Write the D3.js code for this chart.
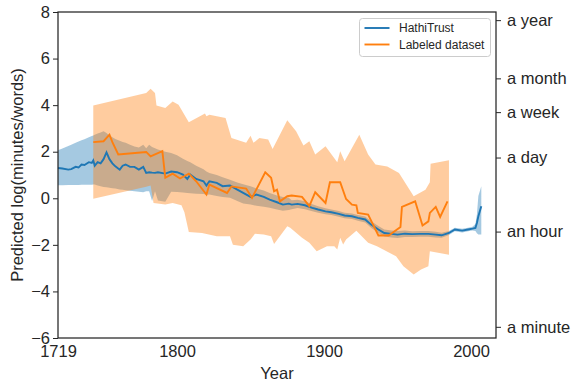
<!DOCTYPE html>
<html>
<head>
<meta charset="utf-8">
<script src="https://cdn.jsdelivr.net/npm/d3@7"></script>
<style>
body { margin: 0; background: #fff; }
text { font-family: "Liberation Sans", Arial, sans-serif; fill: #262626; }
</style>
</head>
<body>
<script>
// HathiTrust: yearly mean + confidence band
var hathiYears = [1719,1722,1726,1728,1731,1733,1735,1737,1740,1742,1743,1744,1746,1748,1750,1752,1754,1756,1758,1761,1763,1765,1768,1771,1774,1777,1779,1781,1783,1785,1787,1792,1796,1800,1804,1807,1809,1813,1818,1820,1822,1827,1831,1836,1841,1845,1850,1854,1859,1863,1868,1872,1876,1878,1882,1887,1892,1896,1901,1905,1910,1914,1919,1923,1928,1932,1937,1941,1946,1950,1955,1960,1965,1971,1976,1980,1985,1989,1994,1998,2001,2003,2004,2005,2007];
var hathiMean = [1.30,1.28,1.23,1.25,1.35,1.32,1.45,1.43,1.55,1.52,1.63,1.40,1.55,1.50,1.68,1.97,1.68,1.50,1.37,1.23,1.40,1.45,1.35,1.35,1.23,1.35,1.09,1.12,1.10,1.09,1.12,1.06,1.15,1.12,1.02,0.83,1.02,0.83,0.73,0.55,0.73,0.66,0.52,0.55,0.37,0.23,0.06,0.16,0.06,-0.06,-0.17,-0.27,-0.23,-0.27,-0.24,-0.30,-0.41,-0.48,-0.56,-0.60,-0.67,-0.74,-0.77,-0.84,-0.91,-1.13,-1.34,-1.49,-1.53,-1.56,-1.52,-1.54,-1.53,-1.53,-1.56,-1.59,-1.49,-1.34,-1.39,-1.34,-1.30,-1.27,-1.06,-0.77,-0.34];
var hathiLo = [0.56,0.56,0.57,0.57,0.57,0.57,0.58,0.58,0.58,0.58,0.59,0.59,0.55,0.52,0.49,0.47,0.45,0.43,0.42,0.38,0.37,0.35,0.32,0.30,0.28,0.26,0.30,0.30,-0.12,0.30,-0.10,-0.15,0.28,0.27,0.25,0.23,0.22,0.20,0.18,0.15,0.16,0.10,0.05,0.02,-0.12,-0.22,-0.27,-0.32,-0.36,-0.41,-0.48,-0.53,-0.50,-0.47,-0.42,-0.47,-0.56,-0.62,-0.69,-0.72,-0.79,-0.86,-0.89,-0.96,-1.04,-1.27,-1.49,-1.64,-1.68,-1.71,-1.66,-1.66,-1.65,-1.65,-1.68,-1.70,-1.58,-1.42,-1.47,-1.42,-1.38,-1.40,-1.50,-1.56,-1.56];
var hathiHi = [2.06,2.14,2.25,2.30,2.38,2.44,2.49,2.54,2.62,2.68,2.70,2.73,2.78,2.82,2.88,2.80,2.70,2.62,2.55,2.47,2.42,2.38,2.30,2.22,2.18,2.30,2.15,2.30,2.20,2.15,2.10,2.00,1.95,1.85,1.70,1.60,1.55,1.40,1.25,1.15,1.09,1.00,0.90,0.80,0.68,0.60,0.52,0.42,0.33,0.23,0.12,0.05,0.02,-0.08,-0.06,-0.13,-0.26,-0.34,-0.43,-0.48,-0.55,-0.62,-0.65,-0.72,-0.78,-0.99,-1.19,-1.34,-1.38,-1.41,-1.38,-1.42,-1.41,-1.41,-1.44,-1.48,-1.40,-1.26,-1.31,-1.26,-1.22,-1.10,-0.70,0.10,0.52];

// Labeled dataset: mean line
var labYears = [1743,1750,1754,1756,1760,1779,1782,1790,1792,1797,1802,1808,1813,1820,1822,1834,1837,1847,1851,1860,1864,1866,1868,1870,1875,1878,1885,1890,1894,1901,1904,1911,1915,1919,1922,1923,1930,1937,1944,1952,1953,1962,1967,1971,1972,1976,1979,1984];
var labMean = [2.41,2.45,2.73,2.41,1.88,1.99,1.80,2.02,0.88,1.06,0.85,1.06,0.73,0.16,0.59,0.23,0.51,0.42,0.02,1.12,0.88,0.30,0.37,-0.13,0.09,0.12,0.06,-0.34,0.26,-0.20,0.69,0.69,-0.03,-0.27,-0.30,-0.63,-0.70,-1.60,-1.60,-1.23,-0.37,-0.13,-1.17,-0.99,-0.63,-0.37,-0.80,-0.13];

// Labeled dataset: band edges
var labHiYears = [1743,1779,1782,1785,1786,1792,1797,1801,1808,1819,1820,1822,1833,1837,1847,1850,1852,1856,1862,1865,1875,1881,1886,1890,1894,1901,1909,1911,1914,1924,1930,1935,1943,1951,1961,1969,1972,1972.5,1985];
var labHi = [3.98,4.52,4.70,4.52,3.98,3.88,4.16,4.02,3.26,3.64,3.52,3.59,3.45,2.59,2.38,2.69,2.38,2.59,2.52,2.12,3.35,2.88,2.27,2.45,1.88,2.23,1.55,2.02,1.59,2.73,1.88,1.45,1.37,1.09,0.09,0.37,0.69,1.48,1.63];
var labLoYears = [1743,1779,1782,1784,1792,1797,1803,1805,1808,1817,1827,1836,1838,1845,1850,1853,1859,1864,1866,1875,1877,1885,1890,1895,1902,1907,1909,1911,1913,1915,1922,1930,1936,1949,1954,1961,1966,1971,1972,1985];
var labLo = [-0.02,0.50,0.55,-0.20,-0.27,-0.20,-0.30,-0.60,-1.45,-1.49,-1.63,-1.63,-2.00,-2.06,-1.77,-1.52,-1.56,-1.63,-1.96,-1.20,-1.27,-1.70,-1.91,-2.27,-2.06,-2.06,-2.20,-1.70,-1.99,-1.77,-1.39,-1.91,-2.06,-2.49,-2.92,-3.27,-3.06,-2.92,-2.27,-2.42];

var leftTicks = [-6,-4,-2,0,2,4,6,8];
var xTicks = [1719,1800,1900,2000];
var timeLabels = ["a minute","an hour","a day","a week","a month","a year"];
var timeValues = [-5.52,-1.43,1.75,3.70,5.15,7.65];

var W = 575, H = 385;
var mLeft = 58, mTop = 12, w = 438, h = 326;
var blue = "#1f77b4", orange = "#ff7f0e", ink = "#262626";

var svg = d3.select("body").append("svg").attr("width", W).attr("height", H);
var g = svg.append("g").attr("transform", "translate(" + mLeft + "," + mTop + ")");

var x = d3.scaleLinear().domain([1719, 2017]).range([0, w]);
var y = d3.scaleLinear().domain([-6, 8]).range([h, 0]);

var hathi = hathiYears.map(function(d, i){
  return {year: d, mean: hathiMean[i], lo: hathiLo[i], hi: hathiHi[i]};
});
var lab = labYears.map(function(d, i){ return {year: d, mean: labMean[i]}; });

var area = d3.area()
  .x(function(d){ return x(d.year); })
  .y0(function(d){ return y(d.lo); })
  .y1(function(d){ return y(d.hi); });
var line = d3.line()
  .x(function(d){ return x(d.year); })
  .y(function(d){ return y(d.mean); });
var poly = d3.line()
  .x(function(d){ return x(d[0]); })
  .y(function(d){ return y(d[1]); });

// bands first (below lines)
g.append("path").datum(hathi).attr("d", area)
  .attr("fill", blue).attr("fill-opacity", 0.4);

var labBand = labHiYears.map(function(d, i){ return [d, labHi[i]]; })
  .concat(labLoYears.map(function(d, i){ return [d, labLo[i]]; }).reverse());
g.append("path").attr("d", poly(labBand) + "Z")
  .attr("fill", orange).attr("fill-opacity", 0.4);

g.append("path").datum(hathi).attr("d", line)
  .attr("fill", "none").attr("stroke", blue).attr("stroke-width", 1.9);
g.append("path").datum(lab).attr("d", line)
  .attr("fill", "none").attr("stroke", orange).attr("stroke-width", 1.9);

// axes
var yl = g.append("g").call(d3.axisLeft(y).tickValues(leftTicks).tickSize(5).tickPadding(3).tickFormat(d3.format("d")));
var yr = g.append("g").attr("transform", "translate(" + w + ",0)")
  .call(d3.axisRight(y).tickValues(timeValues).tickSize(5).tickPadding(6)
    .tickFormat(function(d, i){ return timeLabels[i]; }));
var xa = g.append("g").attr("transform", "translate(0," + h + ")")
  .call(d3.axisBottom(x).tickValues(xTicks).tickSize(0).tickPadding(7).tickFormat(d3.format("d")));

[yl, yr, xa].forEach(function(a){
  a.select(".domain").remove();
  a.selectAll("line").attr("stroke", ink).attr("stroke-width", 1);
  a.selectAll("text").attr("font-size", "16.5px").attr("fill", ink)
    .style("font-family", "'Liberation Sans', Arial, sans-serif");
});

g.append("rect").attr("width", w).attr("height", h)
  .attr("fill", "none").attr("stroke", ink).attr("stroke-width", 1.25);

// axis titles
svg.append("text").attr("x", mLeft + w / 2).attr("y", 379)
  .attr("text-anchor", "middle").attr("font-size", "16.5px").text("Year");
svg.append("text").attr("transform", "translate(23," + (mTop + h / 2) + ") rotate(-90)")
  .attr("text-anchor", "middle").attr("font-size", "16.5px").text("Predicted log(minutes/words)");

// legend
var lg = svg.append("g").attr("transform", "translate(359.5,18.5)");
lg.append("rect").attr("width", 131).attr("height", 38).attr("rx", 3)
  .attr("fill", "#fff").attr("fill-opacity", 0.8).attr("stroke", "#cccccc");
[["HathiTrust", blue], ["Labeled dataset", orange]].forEach(function(e, i){
  var yy = 9.5 + i * 16.5;
  lg.append("line").attr("x1", 5).attr("x2", 30).attr("y1", yy).attr("y2", yy)
    .attr("stroke", e[1]).attr("stroke-width", 1.9);
  lg.append("text").attr("x", 39.5).attr("y", yy).attr("dy", "0.35em")
    .attr("font-size", "12px").text(e[0]);
});
</script>
</body>
</html>
